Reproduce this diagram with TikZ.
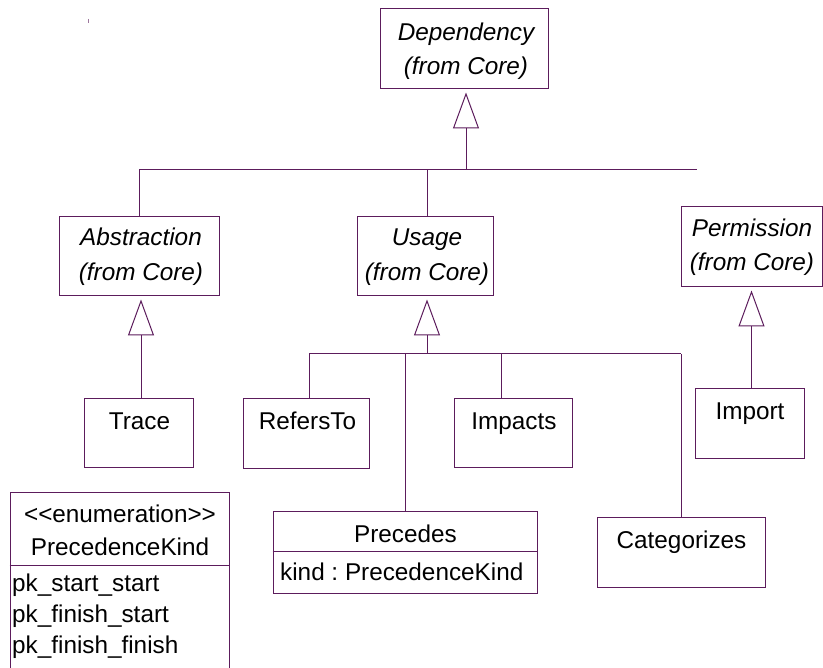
\documentclass[tikz,border=0pt]{standalone}
\usepackage{fontspec}
\newfontfamily\umlfont{Liberation Sans}
\usetikzlibrary{arrows.meta}
\definecolor{umlline}{RGB}{92,28,92}
\frenchspacing
\begin{document}
\begin{tikzpicture}[x=1pt,y=-1pt,
  box/.style={draw=umlline, line width=1pt, rectangle, inner sep=0pt, fill=white},
  lbl/.style={font=\umlfont\fontsize{24.3}{29}\selectfont, inner sep=0pt, anchor=base, text=black},
  ilbl/.style={lbl, font=\umlfont\fontsize{24.3}{29}\selectfont\itshape},
  wire/.style={draw=umlline, line width=1pt},
  gen/.style={wire, -{Triangle[open, length=36pt, width=26pt, line width=1pt]}, shorten >=3pt},
]
\useasboundingbox (0,0) rectangle (823,668);
\clip (0,0) rectangle (823,668);

% class boxes
\node[box, minimum width=168pt, minimum height=80pt] (dep) at (464,49) {};
\node[box, minimum width=160pt, minimum height=79pt] (abs) at (139,256.5) {};
\node[box, minimum width=136pt, minimum height=79pt] (usage) at (425,256.5) {};
\node[box, minimum width=141pt, minimum height=80pt] (perm) at (751.5,247) {};
\node[box, minimum width=109pt, minimum height=69pt] (trace) at (138.5,433.5) {};
\node[box, minimum width=126pt, minimum height=70pt] (refers) at (306,434) {};
\node[box, minimum width=118pt, minimum height=69pt] (impacts) at (513,433.5) {};
\node[box, minimum width=109pt, minimum height=70pt] (import) at (749.5,424) {};
\node[box, minimum width=264pt, minimum height=81pt] (precedes) at (405,552.5) {};
\node[box, minimum width=168pt, minimum height=69pt] (categorizes) at (681,552.5) {};
\node[box, minimum width=219pt, minimum height=187pt] (enum) at (119.5,586.5) {};

% compartment dividers
\coordinate (precdiv) at (405,552);
\draw[wire] (precedes.west |- precdiv) -- (precedes.east |- precdiv);
\coordinate (enumdiv) at (119.5,565);
\draw[wire] (enum.west |- enumdiv) -- (enum.east |- enumdiv);

% generalization from Dependency
\coordinate (depbus) at (466,170);
\coordinate (busend) at (697,170);
\draw[gen] (depbus) -- (depbus |- dep.south);
\draw[wire] (abs.north |- depbus) -- (busend);
\draw[wire] (abs.north) -- (abs.north |- depbus);
\draw[wire] ([xshift=2pt]usage.north) -- ([xshift=2pt]usage.north |- depbus);

% Trace from Abstraction
\draw[gen] ([xshift=2pt]abs.south |- trace.north) -- ([xshift=2pt]abs.south);

% generalization from Usage
\coordinate (usebus) at (427,354);
\draw[gen] (usebus) -- (usebus |- usage.south);
\draw[wire] ([xshift=3pt]refers.north |- usebus) -- (categorizes.north |- usebus);
\draw[wire] ([xshift=3pt]refers.north) -- ([xshift=3pt]refers.north |- usebus);
\draw[wire] (precedes.north) -- (precedes.north |- usebus);
\draw[wire] ([xshift=-12pt]impacts.north) -- ([xshift=-12pt]impacts.north |- usebus);
\draw[wire] (categorizes.north) -- (categorizes.north |- usebus);

% Import from Permission
\draw[gen] (perm.south |- import.north) -- (perm.south);

% small stray mark
\draw[draw=umlline!60, line width=1pt] (88.7,19) -- (88.7,23);

% labels
\node[ilbl] (dep1) at (466,41) {Dependency};
\node[ilbl] (dep2) at (466,75) {(from Core)};
\node[ilbl] (abs1) at (141,246) {Abstraction};
\node[ilbl] (abs2) at (141,281) {(from Core)};
\node[ilbl] (use1) at (427,246) {Usage};
\node[ilbl] (use2) at (427,281) {(from Core)};
\node[ilbl] (perm1) at (752,237) {Permission};
\node[ilbl] (perm2) at (752,271) {(from Core)};
\node[lbl] (tracet) at (139.5,430) {Trace};
\node[lbl] (referst) at (307.5,430) {RefersTo};
\node[lbl] (impactst) at (514,430) {Impacts};
\node[lbl] (importt) at (750,420) {Import};
\node[lbl] (prect) at (405.5,543) {Precedes};
\node[lbl, anchor=base west] (preca) at (280,580) {kind : PrecedenceKind};
\node[lbl] (catt) at (681.5,548) {Categorizes};
\node[lbl] (enum1) at (120,523) {<\kern0pt<enumeration>\kern0pt>};
\node[lbl] (enum2) at (120,555) {PrecedenceKind};
\node[lbl, anchor=base west] (enuma) at (12,591.7) {pk\_start\_start};
\node[lbl, anchor=base west] (enumb) at (12,622.7) {pk\_finish\_start};
\node[lbl, anchor=base west] (enumc) at (12,653) {pk\_finish\_finish};
\end{tikzpicture}
\end{document}
